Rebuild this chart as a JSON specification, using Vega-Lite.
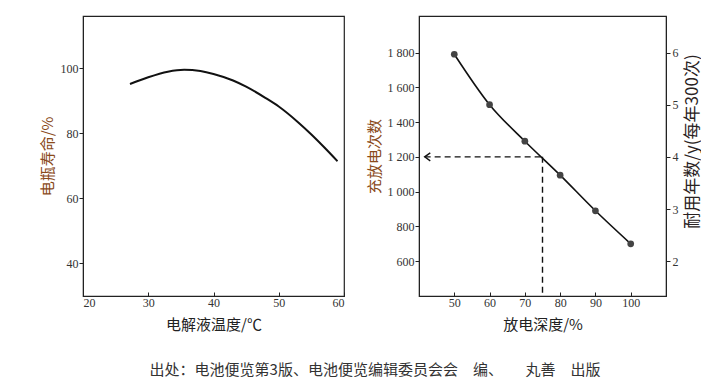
{
  "$schema": "https://vega.github.io/schema/vega-lite/v6.json",
  "background": "white",
  "padding": {"left": 39, "top": 15, "right": 0, "bottom": 0},
  "config": {
    "view": {"stroke": "#222", "strokeWidth": 1.2},
    "axis": {
      "labelFont": "Liberation Serif",
      "labelFontSize": 12,
      "labelColor": "#333",
      "titleFont": "Noto Sans CJK SC",
      "titleFontSize": 15,
      "titleFontWeight": "normal",
      "titleColor": "#222",
      "grid": false,
      "domainColor": "#222",
      "tickColor": "#222",
      "tickSize": 4,
      "labelPadding": 1
    }
  },
  "title": {
    "text": "出处：电池便览第3版、电池便览编辑委员会会　编、　　丸善　出版",
    "orient": "bottom",
    "anchor": "middle",
    "font": "Noto Sans CJK SC",
    "fontSize": 15,
    "fontWeight": "normal",
    "color": "#333",
    "offset": 30,
    "dx": 5
  },
  "spacing": 20,
  "hconcat": [
    {
      "width": 261,
      "height": 280,
      "data": {
        "values": [
          {"temp": 27.2, "life": 95.1},
          {"temp": 30, "life": 97.2},
          {"temp": 33, "life": 98.9},
          {"temp": 35.5, "life": 99.5},
          {"temp": 38, "life": 99.1},
          {"temp": 40, "life": 98.2},
          {"temp": 43, "life": 96.2},
          {"temp": 45, "life": 94.3},
          {"temp": 48, "life": 90.8},
          {"temp": 50, "life": 88.2},
          {"temp": 53, "life": 83.3},
          {"temp": 55, "life": 79.6},
          {"temp": 57, "life": 75.6},
          {"temp": 59, "life": 71.4}
        ]
      },
      "mark": {"type": "line", "interpolate": "monotone", "color": "#111", "strokeWidth": 2},
      "encoding": {
        "x": {
          "field": "temp",
          "type": "quantitative",
          "scale": {"domain": [20, 60], "nice": false, "zero": false},
          "axis": {"values": [20, 30, 40, 50, 60], "title": "电解液温度/℃", "tickSize": -4, "labelPadding": 5, "titlePadding": 9}
        },
        "y": {
          "field": "life",
          "type": "quantitative",
          "scale": {"domain": [30, 116], "nice": false, "zero": false},
          "axis": {"values": [40, 60, 80, 100], "title": "电瓶寿命/%", "titleColor": "#8a4a1a", "titlePadding": 5}
        }
      }
    },
    {
      "width": 247,
      "height": 280,
      "layer": [
        {
          "layer": [
            {
              "data": {
                "values": [
                  {"d": 41.6, "d2": 75, "c": 1200, "c2": 1200},
                  {"d": 75, "d2": 75, "c": 1200, "c2": 400}
                ]
              },
              "mark": {"type": "rule", "color": "#111", "strokeWidth": 1.4, "strokeDash": [6, 4]},
              "encoding": {
                "x": {"field": "d", "type": "quantitative"},
                "x2": {"field": "d2"},
                "y": {"field": "c", "type": "quantitative"},
                "y2": {"field": "c2"}
              }
            },
            {
              "data": {"values": [{"d": 42.4, "c": 1200}]},
              "mark": {"type": "point", "shape": "M0.7,-1L-0.7,0L0.7,1", "size": 64, "filled": false, "stroke": "#111", "strokeWidth": 1.4, "opacity": 1},
              "encoding": {
                "x": {"field": "d", "type": "quantitative"},
                "y": {"field": "c", "type": "quantitative"}
              }
            },
            {
              "data": {"name": "pts"},
              "mark": {"type": "line", "interpolate": "monotone", "color": "#111", "strokeWidth": 1.6},
              "encoding": {
                "x": {
                  "field": "depth",
                  "type": "quantitative",
                  "scale": {"domain": [40, 110], "nice": false, "zero": false},
                  "axis": {"values": [50, 60, 70, 80, 90, 100], "title": "放电深度/%", "tickSize": -4, "labelPadding": 5, "titlePadding": 9}
                },
                "y": {
                  "field": "cycles",
                  "type": "quantitative",
                  "scale": {"domain": [400, 2010], "nice": false, "zero": false},
                  "axis": {
                    "values": [600, 800, 1000, 1200, 1400, 1600, 1800],
                    "labelExpr": "replace(format(datum.value, ','), ',', ' ')",
                    "title": "充放电次数",
                    "titleColor": "#8a4a1a",
                    "titlePadding": 5
                  }
                }
              }
            },
            {
              "data": {"name": "pts"},
              "mark": {"type": "circle", "size": 45, "color": "#444", "opacity": 1},
              "encoding": {
                "x": {"field": "depth", "type": "quantitative"},
                "y": {"field": "cycles", "type": "quantitative"}
              }
            }
          ]
        },
        {
          "data": {"name": "pts"},
          "mark": {"type": "point", "opacity": 0},
          "encoding": {
            "x": {"field": "depth", "type": "quantitative"},
            "y": {
              "field": "years",
              "type": "quantitative",
              "scale": {"domain": [1.3333, 6.7], "nice": false, "zero": false},
              "axis": {
                "orient": "right",
                "values": [2, 3, 4, 5, 6],
                "title": "耐用年数/y(每年300次)",
                "titleAngle": 270,
                "titleBaseline": "top",
                "titleY": 125,
                "titleFontSize": 17,
                "titleColor": "#2a2222",
                "titlePadding": 6,
                "labelPadding": 2
              }
            }
          }
        }
      ],
      "resolve": {"scale": {"y": "independent"}}
    }
  ],
  "datasets": {
    "pts": [
      {"depth": 50, "cycles": 1790, "years": 5.97},
      {"depth": 60, "cycles": 1500, "years": 5.0},
      {"depth": 70, "cycles": 1290, "years": 4.3},
      {"depth": 80, "cycles": 1095, "years": 3.65},
      {"depth": 90, "cycles": 890, "years": 2.97},
      {"depth": 100, "cycles": 700, "years": 2.33}
    ]
  }
}
